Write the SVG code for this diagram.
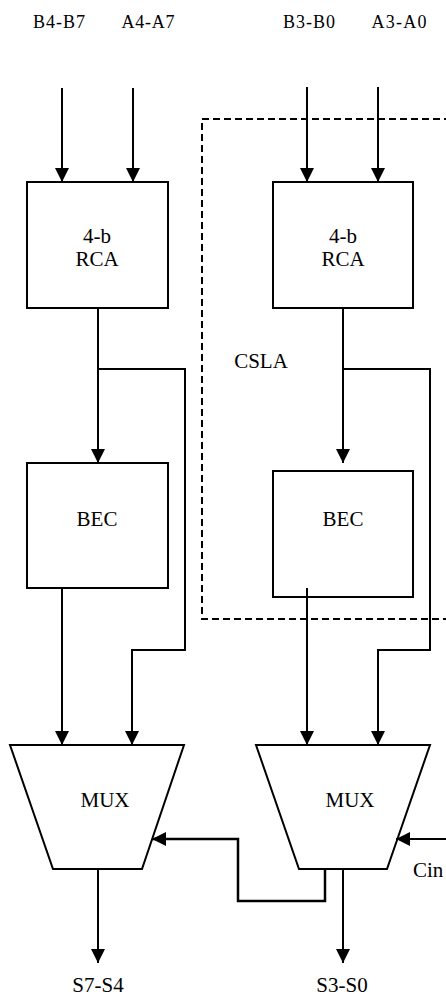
<svg xmlns="http://www.w3.org/2000/svg" width="446" height="997" viewBox="0 0 446 997" font-family="'Liberation Serif', 'DejaVu Serif', serif">
<defs>
<marker id="ah" viewBox="0 0 14 14" refX="14" refY="7" markerWidth="14" markerHeight="14" markerUnits="userSpaceOnUse" orient="auto">
<path d="M0,0 L14,7 L0,14 z" fill="#000"/>
</marker>
</defs>
<style>
text{font-family:'Liberation Serif','DejaVu Serif',serif;fill:#000;text-anchor:middle}
.lbl{font-size:21px}
.top{font-size:18px}
.blk{fill:#fff;stroke:#000;stroke-width:2}
.w{fill:none;stroke:#000;stroke-width:2}
.wt{fill:none;stroke:#000;stroke-width:2.5}
.dash{fill:none;stroke:#000;stroke-width:2;stroke-dasharray:7,4}
</style>
<rect width="446" height="997" fill="#fff"/>
<g id="csla">
<rect class="dash" x="202" y="119" width="270" height="500"/>
<text class="lbl" x="261" y="368">CSLA</text>
</g>
<g id="labels">
<text class="top" x="59" y="28" textLength="52">B4-B7</text>
<text class="top" x="148" y="28" textLength="53">A4-A7</text>
<text class="top" x="309" y="28" textLength="52">B3-B0</text>
<text class="top" x="399" y="28" textLength="55">A3-A0</text>
<text class="lbl" x="98" y="992">S7-S4</text>
<text class="lbl" x="342" y="992">S3-S0</text>
<text class="lbl" x="413" y="877" style="text-anchor:start">Cin</text>
</g>
<g id="rca1">
<rect class="blk" x="27" y="182" width="141" height="126"/>
<text class="lbl" x="97" y="243">4-b</text>
<text class="lbl" x="97" y="266">RCA</text>
</g>
<g id="rca0">
<rect class="blk" x="273" y="182" width="140" height="126"/>
<text class="lbl" x="343" y="243">4-b</text>
<text class="lbl" x="343" y="266">RCA</text>
</g>
<g id="bec1">
<rect class="blk" x="27" y="463" width="141" height="125"/>
<text class="lbl" x="97" y="526">BEC</text>
</g>
<g id="bec0">
<rect class="blk" x="273" y="471" width="140" height="126"/>
<text class="lbl" x="343" y="526">BEC</text>
</g>
<g id="mux1">
<path class="blk" d="M10,745 L184,745 L142,869 L53,869 Z"/>
<text class="lbl" x="105" y="807">MUX</text>
</g>
<g id="mux0">
<path class="blk" d="M256,745 L430,745 L387,869 L299,869 Z"/>
<text class="lbl" x="350" y="807">MUX</text>
</g>
<g id="connectors">
<line class="w" x1="62" y1="88" x2="62" y2="182" marker-end="url(#ah)"/>
<line class="w" x1="133" y1="88" x2="133" y2="182" marker-end="url(#ah)"/>
<line class="w" x1="307" y1="87" x2="307" y2="182" marker-end="url(#ah)"/>
<line class="w" x1="378" y1="87" x2="378" y2="182" marker-end="url(#ah)"/>
<line class="w" x1="98" y1="308" x2="98" y2="463" marker-end="url(#ah)"/>
<polyline class="w" points="98,369 185,369 185,650 132,650 132,745" marker-end="url(#ah)"/>
<line class="w" x1="343" y1="308" x2="343" y2="463" marker-end="url(#ah)"/>
<polyline class="w" points="343,369 430,369 430,650 378,650 378,745" marker-end="url(#ah)"/>
<line class="w" x1="62" y1="588" x2="62" y2="745" marker-end="url(#ah)"/>
<line class="w" x1="307" y1="588" x2="307" y2="745" marker-end="url(#ah)"/>
<polyline class="wt" points="325,869 325,901 238,901 238,839 152,839" marker-end="url(#ah)"/>
<line class="w" x1="446" y1="839" x2="396" y2="839" marker-end="url(#ah)"/>
<line class="w" x1="98" y1="869" x2="98" y2="963" marker-end="url(#ah)"/>
<line class="w" x1="343" y1="869" x2="343" y2="963" marker-end="url(#ah)"/>
</g>
</svg>
